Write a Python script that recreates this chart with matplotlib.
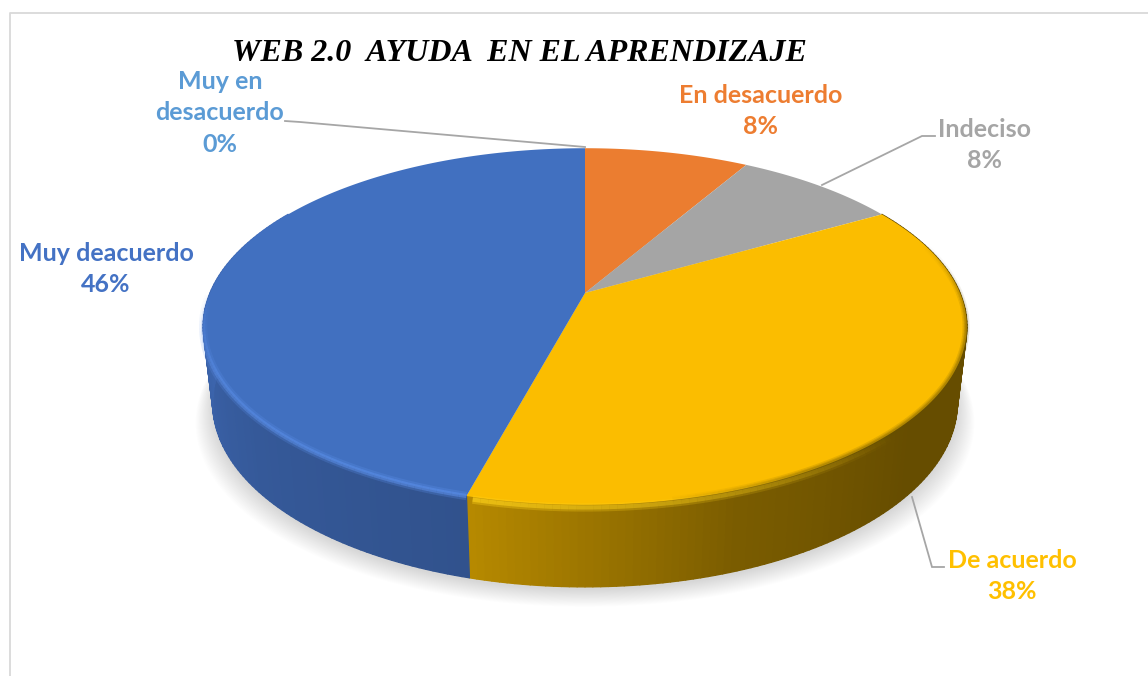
import numpy as np
import matplotlib
matplotlib.use('Agg')
import matplotlib.pyplot as plt
from matplotlib.colors import to_rgb
from matplotlib.collections import PolyCollection, LineCollection

# slices in clockwise order from 12 o'clock, answer counts
labels = ['Muy en\ndesacuerdo', 'En desacuerdo', 'Indeciso', 'De acuerdo', 'Muy deacuerdo']
counts = [0, 2, 2, 9, 11]
colors = ['#5B9BD5', '#EB7D30', '#A5A5A5', '#FBBD00', '#4170C0']
text_colors = ['#5B9BD5', '#ED7D31', '#A5A5A5', '#FFC000', '#4472C4']
label_pos = [(220, 113), (761, 111), (984, 145), (1012, 576), (106, 269)]

title = 'WEB 2.0  AYUDA  EN EL APRENDIZAJE'

# leader lines, in pixels
leaders = [[(285, 121), (300, 122), (585, 147)],
           [(935, 136), (922, 136), (822, 185)],
           [(912, 497), (932, 567), (944, 567)]]

# how dark the side wall gets, by angle round the pie
shade_angle = [0, 60, 130, 160, 195, 230, 290, 360]
shade_value = [0.40, 0.40, 0.40, 0.48, 0.72, 0.78, 0.95, 1.0]

# pie projection, fitted to the picture
cx, cy = 585, 293
a, b, k = 375, 172, 0.188


def project(theta, r=1.0, scale=1.0, drop=0.0, drop_slope=0.0):
    t = np.radians(theta)
    x = r * np.sin(t)
    y = r * np.cos(t)
    w = 1 + k * y
    return np.column_stack((cx + scale * a * x / w,
                            cy - b * y / w + drop + drop_slope * y))


def bottom(theta, scale=0.975, extra=0.0):
    return project(theta, scale=scale, drop=75 + extra, drop_slope=-7)


fig = plt.figure(figsize=(11.48, 6.76), dpi=100)
ax = fig.add_axes([0, 0, 1, 1])
ax.set_xlim(0, 1148)
ax.set_ylim(676, 0)
ax.axis('off')

# chart frame
ax.plot([10, 10, 1148], [676, 13, 13], color='#D9D9D9', lw=1.3, zorder=1)

# soft shadow under the pie
full = np.linspace(0, 360, 361)
for sc, ex in zip(np.linspace(1.02, 0.975, 20), np.linspace(20, 3, 20)):
    ax.fill(*bottom(full, scale=sc, extra=ex).T, color='black', alpha=0.009, lw=0, zorder=2)

# side wall
total = sum(counts)
bounds = np.concatenate(([0], np.cumsum(counts))) / total * 360
side_polys, side_cols = [], []
for th in np.arange(60, 300, 1.0):
    idx = np.searchsorted(bounds, th + 0.5, side='right') - 1
    idx = min(idx, len(counts) - 1)
    pair = np.array([th, th + 1.0])
    side_polys.append(np.vstack((project(pair), bottom(pair)[::-1])))
    shade = np.interp(th, shade_angle, shade_value)
    base = np.array(to_rgb(text_colors[idx]))
    side_cols.append(tuple(base * shade))
ax.add_collection(PolyCollection(side_polys, facecolors=side_cols, edgecolors=side_cols,
                                 linewidths=1.0, zorder=3))

# top face
for i, v in enumerate(counts):
    if v == 0:
        continue
    th = np.linspace(bounds[i], bounds[i + 1], 200)
    pts = np.vstack(([[cx, cy]], project(th)))
    ax.fill(*pts.T, color=colors[i], lw=0, zorder=4)

# bevel along the front edge
blue_th = np.arange(bounds[4], 270, 1.0)
blue_alpha = np.interp(blue_th, [bounds[4], 245, 270], [0.9, 0.75, 0.0])
yellow_th = np.arange(135, bounds[4], 1.0)
yellow_alpha = np.interp(yellow_th, [135, 160, bounds[4]], [0.0, 0.5, 1.0])
dark_th = np.arange(72, 170, 1.0)
dark_alpha = np.interp(dark_th, [72, 100, 150, 170], [0.0, 0.5, 0.5, 0.0])


def rim(th, alpha, color, r, widths, zorder=5):
    p = project(th, r=r)
    segs = np.stack((p[:-1], p[1:]), axis=1)
    rgb = to_rgb(color)
    for lw, f in widths:
        cols = [(*rgb, al * f) for al in alpha[:-1]]
        ax.add_collection(LineCollection(segs, colors=cols, linewidths=lw, zorder=zorder,
                                         capstyle='butt'))


rim(dark_th, dark_alpha, '#665000', 0.998, [(5, 0.3), (3, 0.4), (1.5, 0.5)])
rim(yellow_th, yellow_alpha, '#FFD21A', 1.01, [(6, 0.35), (3, 0.6)])
rim(blue_th, blue_alpha, '#5C90EA', 1.0, [(6, 0.3), (3, 0.6)])

# leader lines
for line in leaders:
    xs, ys = zip(*line)
    ax.plot(xs, ys, color='#A6A6A6', lw=1.3, zorder=6, solid_joinstyle='miter')

# labels
for lab, v, c, (x, y) in zip(labels, counts, text_colors, label_pos):
    pct = round(v / total * 100)
    ax.text(x, y, f'{lab}\n{pct}%', color=c, family='Lato', weight='bold', fontsize=18,
            ha='center', va='center', linespacing=1.45, zorder=7)

ax.text(519, 53.5, title, family='Liberation Serif', style='italic', weight='bold',
        fontsize=23, color='black', ha='center', va='center', zorder=7)

fig.savefig('out.png', dpi=100)
